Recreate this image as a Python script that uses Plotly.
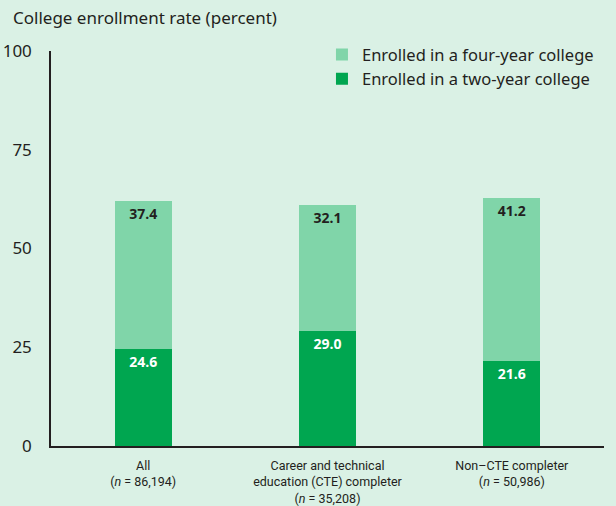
import plotly.graph_objects as go

categories = [
    "All<br>(<i>n</i> = 86,194)",
    "Career and technical<br>education (CTE) completer<br>(<i>n</i> = 35,208)",
    "Non–CTE completer<br>(<i>n</i> = 50,986)",
]
two_year = [24.6, 29.0, 21.6]
four_year = [37.4, 32.1, 41.2]
y_ticks = [0, 25, 50, 75, 100]

BG = "#daf1e5"
DARK = "#00a650"
LIGHT = "#80d5a9"
TXT = "#231f20"

fig = go.Figure()
fig.add_trace(go.Bar(
    x=categories, y=two_year, name="Enrolled in a two-year college",
    marker=dict(color=DARK, line=dict(width=0)),
    text=[f"<b>{v:.1f}</b>" for v in two_year], textposition="inside",
    insidetextanchor="end", constraintext="none",
    textfont=dict(color="white", size=14, family="Open Sans, sans-serif"),
))
fig.add_trace(go.Bar(
    x=categories, y=four_year, name="Enrolled in a four-year college",
    marker=dict(color=LIGHT, line=dict(width=0)),
    text=[f"<b>{v:.1f}</b>" for v in four_year], textposition="inside",
    insidetextanchor="end", constraintext="none",
    textfont=dict(color=TXT, size=14, family="Open Sans, sans-serif"),
))

fig.update_layout(
    width=616, height=506,
    barmode="stack", bargap=0.69,
    paper_bgcolor=BG, plot_bgcolor=BG,
    margin=dict(l=51, r=12, t=51, b=60, autoexpand=False),
    font=dict(family="Roboto, sans-serif", color=TXT),
    showlegend=True,
    legend=dict(
        x=0.49, y=1.035, xanchor="left", yanchor="top",
        traceorder="reversed", bgcolor="rgba(0,0,0,0)",
        font=dict(size=16.5, family="Noto Sans, sans-serif", color=TXT),
        itemwidth=30, tracegroupgap=0,
    ),
    xaxis=dict(
        showline=True, linecolor=TXT, linewidth=2, ticks="",
        tickfont=dict(size=12.5, family="Roboto, sans-serif", color=TXT),
        showgrid=False, fixedrange=True, ticklabelstandoff=7, automargin=False,
    ),
    yaxis=dict(
        range=[0, 100], tickvals=y_ticks, showline=True, linecolor=TXT,
        linewidth=1.5, ticks="", showgrid=False, zeroline=False,
        tickfont=dict(size=17, family="Noto Sans, sans-serif", color=TXT),
        ticklabelstandoff=14, automargin=False, fixedrange=True,
    ),
    annotations=[dict(
        text="College enrollment rate (percent)", xref="paper", yref="paper",
        x=-0.072, y=1.0, yshift=20, xanchor="left", yanchor="bottom",
        showarrow=False, font=dict(size=17, family="Noto Sans, sans-serif", color=TXT),
    )],
)

fig.write_html("out.html", config={"displayModeBar": False},
               post_script="document.body.style.margin='0';")
